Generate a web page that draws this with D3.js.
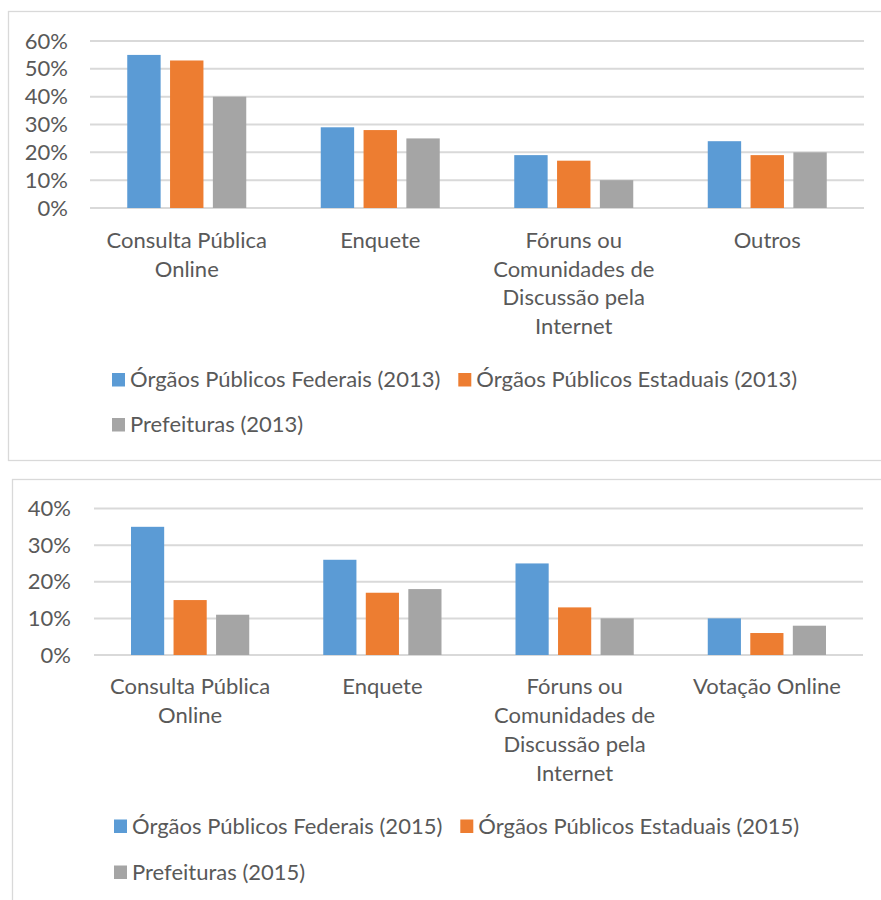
<!DOCTYPE html>
<html>
<head>
<meta charset="utf-8">
<script src="https://cdn.jsdelivr.net/npm/d3@7"></script>
<style>
  html, body { margin: 0; padding: 0; background: #ffffff; }
  svg { display: block; }
  text { font-family: Lato, "Open Sans", sans-serif; fill: #595959; }
</style>
</head>
<body>
<svg id="chart" width="881" height="900"></svg>
<script>
// ---------- Data ----------
const categories2013 = ["Consulta Pública Online", "Enquete", "Fóruns ou Comunidades de Discussão pela Internet", "Outros"];
const series2013 = ["Órgãos Públicos Federais (2013)", "Órgãos Públicos Estaduais (2013)", "Prefeituras (2013)"];
const federais2013 = [0.55, 0.29, 0.19, 0.24];
const estaduais2013 = [0.53, 0.28, 0.17, 0.19];
const prefeituras2013 = [0.40, 0.25, 0.10, 0.20];
const ticks2013 = [0, 0.1, 0.2, 0.3, 0.4, 0.5, 0.6];

const categories2015 = ["Consulta Pública Online", "Enquete", "Fóruns ou Comunidades de Discussão pela Internet", "Votação Online"];
const series2015 = ["Órgãos Públicos Federais (2015)", "Órgãos Públicos Estaduais (2015)", "Prefeituras (2015)"];
const federais2015 = [0.35, 0.26, 0.25, 0.10];
const estaduais2015 = [0.15, 0.17, 0.13, 0.06];
const prefeituras2015 = [0.11, 0.18, 0.10, 0.08];
const ticks2015 = [0, 0.1, 0.2, 0.3, 0.4];

const colors = ["#5B9BD5", "#ED7D31", "#A5A5A5"];

// ---------- Drawing ----------
const svg = d3.select("#chart");
const FONT = 22;

function wrapLines(textSel, words, maxW) {
  const lines = [];
  let cur = [];
  const probe = textSel.append("tspan");
  words.forEach(w => {
    const trial = cur.concat([w]).join(" ");
    probe.text(trial);
    if (probe.node().getComputedTextLength() > maxW && cur.length) {
      lines.push(cur.join(" "));
      cur = [w];
    } else {
      cur.push(w);
    }
  });
  if (cur.length) lines.push(cur.join(" "));
  probe.remove();
  return lines;
}

function drawChart(cfg) {
  const g = svg.append("g");
  // frame
  g.append("rect")
    .attr("x", cfg.frame.x + 0.5).attr("y", cfg.frame.y + 0.5)
    .attr("width", cfg.frame.w).attr("height", cfg.frame.h)
    .attr("fill", "#ffffff").attr("stroke", "#D9D9D9").attr("stroke-width", 1.3);

  const x0 = d3.scaleBand().domain(cfg.categories).range([cfg.left, cfg.right]).padding(0);
  const clusterW = x0.step() * 0.615;
  const x1 = d3.scaleBand().domain(d3.range(cfg.series.length)).range([0, clusterW]).paddingInner(0.22).paddingOuter(0);
  const y = d3.scaleLinear().domain([0, cfg.max]).range([cfg.bottom, cfg.top]);

  // gridlines
  g.append("g").selectAll("line").data(cfg.ticks).join("line")
    .attr("x1", cfg.left).attr("x2", cfg.right)
    .attr("y1", d => y(d)).attr("y2", d => y(d))
    .attr("stroke", "#D9D9D9").attr("stroke-width", 2);

  // y axis labels
  const yAxis = d3.axisLeft(y).tickValues(cfg.ticks).tickFormat(d3.format(".0%")).tickSize(0).tickPadding(0);
  const ya = g.append("g").attr("transform", `translate(${cfg.labelRight},0)`).call(yAxis);
  ya.select(".domain").remove();
  ya.selectAll("text").attr("font-size", FONT).attr("fill", "#595959")
    .style("font-family", "Lato, sans-serif");

  // bars
  const values = cfg.values;
  const groups = g.append("g").selectAll("g").data(cfg.categories).join("g")
    .attr("transform", d => `translate(${x0(d) + (x0.step() - clusterW) / 2},0)`);
  groups.selectAll("rect").data((d, i) => values.map((s, si) => ({ si, v: s[i] }))).join("rect")
    .attr("x", d => x1(d.si))
    .attr("width", x1.bandwidth())
    .attr("y", d => y(d.v))
    .attr("height", d => y(0) - y(d.v))
    .attr("fill", d => colors[d.si]);

  // category labels
  cfg.categories.forEach(c => {
    const t = g.append("text").attr("font-size", FONT).attr("text-anchor", "middle")
      .attr("x", x0(c) + x0.bandwidth() / 2).attr("y", cfg.catY);
    const lines = wrapLines(t, c.split(" "), cfg.wrapW);
    lines.forEach((ln, i) => {
      t.append("tspan").attr("x", x0(c) + x0.bandwidth() / 2)
        .attr("y", cfg.catY + i * cfg.lineH).text(ln);
    });
  });

  // legend (flowing)
  let lx = cfg.legendX, row = 0;
  cfg.series.forEach((s, i) => {
    const t = g.append("text").attr("font-size", FONT).text(s);
    const w = t.node().getComputedTextLength();
    if (lx + 19 + w > cfg.legendMaxX) { row += 1; lx = cfg.legendX; }
    const by = cfg.legendY + row * cfg.legendRowH;
    g.append("rect").attr("x", lx).attr("y", by - 14).attr("width", 13).attr("height", 13.5)
      .attr("fill", colors[i]);
    t.attr("x", lx + 18).attr("y", by);
    lx = lx + 18 + w + 18;
  });
}

drawChart({
  frame: { x: 8, y: 11, w: 900, h: 449 },
  categories: categories2013, series: series2013,
  values: [federais2013, estaduais2013, prefeituras2013],
  ticks: ticks2013, max: 0.6,
  left: 90, right: 864, top: 41, bottom: 208,
  labelRight: 68,
  catY: 248, lineH: 28.7, wrapW: 172,
  legendX: 112, legendY: 387, legendRowH: 45, legendMaxX: 845
});

drawChart({
  frame: { x: 12, y: 479, w: 900, h: 440 },
  categories: categories2015, series: series2015,
  values: [federais2015, estaduais2015, prefeituras2015],
  ticks: ticks2015, max: 0.4,
  left: 94, right: 863, top: 508.5, bottom: 655,
  labelRight: 71,
  catY: 693.5, lineH: 29, wrapW: 172,
  legendX: 114, legendY: 833.5, legendRowH: 46, legendMaxX: 845
});
</script>
</body>
</html>
